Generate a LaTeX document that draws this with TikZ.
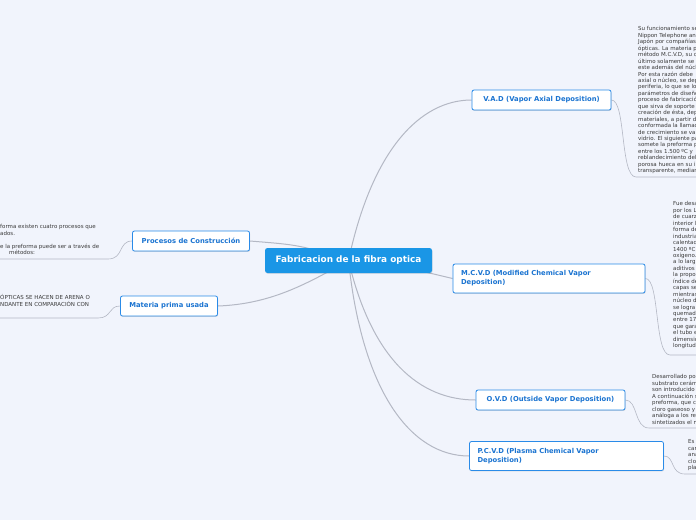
\documentclass[tikz,border=0pt]{standalone}
\usepackage{fontspec}
\setmainfont{DejaVu Sans}
\usepackage{tikz}
\usetikzlibrary{shadows}
\definecolor{bgcol}{HTML}{F1F4FC}
\definecolor{topblue}{HTML}{1A96E6}
\definecolor{brblue}{HTML}{2A8BE8}
\definecolor{brtext}{HTML}{1B74D1}
\definecolor{linkgray}{HTML}{B4B8C4}
\definecolor{leafgray}{HTML}{3A3A3A}
\pgfdeclarelayer{bg}
\pgfsetlayers{bg,main}
\tikzset{
branch/.style={
    draw=brblue, fill=white, rectangle, rounded corners=2pt,
    line width=0.8pt, text=brtext, inner xsep=8pt, inner ysep=0pt,
    font=\fontsize{6.8}{9}\selectfont\bfseries,
    drop shadow={shadow xshift=0.5pt, shadow yshift=-0.9pt, opacity=0.25, fill=black!50}
  }
}

\begin{document}
\begin{tikzpicture}[x=1pt, y=-1pt,
 central/.style={
        rectangle, rounded corners=2.5pt, fill=topblue, text=white,
        minimum width=167pt, minimum height=25pt, inner sep=0pt,
        font=\fontsize{8.9}{10}\selectfont\bfseries,
        drop shadow={shadow xshift=0.5pt, shadow yshift=-0.9pt, opacity=0.2, fill=black!50}
    },
 twoline/.style={branch, align=left, text width=176pt, minimum height=29pt},
 leaf/.style={anchor=north west, inner sep=0pt, align=left, text=leafgray,
        font=\fontsize{5.5}{6.45}\selectfont},
 link/.style={draw=linkgray, line width=1pt},
 underl/.style={draw=linkgray, line width=0.6pt}
  ]
\useasboundingbox (0,0) rectangle (696,520);
\clip (0,0) rectangle (696,520);
\begin{pgfonlayer}{bg}
\fill[bgcol] (0,0) rectangle (696,520);
\end{pgfonlayer}

\node[central] (root) at (348.5,260.5) {Fabricacion de la fibra optica};

\node[branch, minimum width=139pt, minimum height=20pt] (vad) at (541.5,100) {V.A.D (Vapor Axial Deposition)};
\node[twoline] (mcvd) at (549,278.5) {M.C.V.D (Modified Chemical Vapor\\Deposition)};
\node[branch, minimum width=149pt, minimum height=20pt] (ovd) at (550.5,400) {O.V.D (Outside Vapor Deposition)};
\node[twoline, text width=178pt] (pcvd) at (566.5,456) {P.C.V.D (Plasma Chemical Vapor\\Deposition)};
\node[branch, minimum width=117pt, minimum height=20pt] (proc) at (191,241) {Procesos de Construcción};
\node[branch, minimum width=97pt, minimum height=20pt] (mat) at (169,306) {Materia prima usada};

% textos de las hojas
\node[leaf] (vadtxt) at (638,26.5) {Su funcionamiento se\\Nippon Telephone an\\Japón por compañías\\ópticas. La materia p\\método M.C.V.D, su c\\último solamente se\\este además del núcl\\Por esta razón debe\\axial o núcleo, se dep\\periferia, lo que se lo\\parámetros de diseño\\proceso de fabricació\\que sirva de soporte\\creación de ésta, dep\\materiales, a partir d\\conformada la llamad\\de crecimiento se va\\vidrio. El siguiente pa\\somete la preforma p\\entre los 1.500 ºC y\\reblandecimiento del\\porosa hueca en su i\\transparente, median};
\node[leaf] (mcvdtxt) at (673,201.5) {Fue desa\\por los L\\de cuarz\\interior l\\forma de\\industria\\calentad\\1400 ºC\\oxígeno.\\a lo larg\\aditivos\\la propo\\índice de\\capas se\\mientras\\núcleo d\\se logra\\quemad\\entre 17\\que gara\\el tubo e\\dimensio\\longitud};
\node[leaf] (ovdtxt) at (652,374.5) {Desarrollado po\\substrato cerám\\son introducido\\A continuación s\\preforma, que c\\cloro gaseoso y\\análoga a los re\\sintetizados el n};
\node[leaf] (pcvdtxt) at (688,439.5) {Es\\car\\ana\\clo\\pla};
\node[leaf] (proctxt) at (0,224.5) {forma existen cuatro procesos que\\ados.\\[6.45pt]e la preforma puede ser a través de\\\hspace*{9pt}métodos:};
\node[leaf] (mattxt) at (0,294.5) {ÓPTICAS SE HACEN DE ARENA O\\NDANTE EN COMPARACIÓN CON};

\coordinate (vadu) at (636,177);
\coordinate (mcvdu) at (670,355);
\coordinate (ovdu) at (649,428);
\coordinate (pcvdu) at (685,474);
\coordinate (procu) at (108,259);
\coordinate (matu) at (98,318);

\begin{pgfonlayer}{bg}
\path[link] (root.center) .. controls (372,150) and (420,100) .. (vad.west);
\path[link] (root.center) .. controls (400,266) .. (mcvd.west);
\path[link] (root.center) .. controls (372,360) and (420,400) .. (ovd.west);
\path[link] (root.center) .. controls (362,390) and (410,456) .. (pcvd.west);
\path[link] (root.center) .. controls (300,245) .. (proc.east);
\path[link] (root.center) .. controls (305,285) and (270,304) .. (mat.east);

\draw[underl] (vad.east) .. controls (626,100) and (620,177) .. (vadu) -- (696,177);
\draw[underl] (mcvd.east) .. controls (660,278.5) and (654,355) .. (mcvdu) -- (696,355);
\draw[underl] (ovd.east) .. controls (638,400) and (634,428) .. (ovdu) -- (696,428);
\draw[underl] (pcvd.east) .. controls (675,456) and (670,474) .. (pcvdu) -- (696,474);
\draw[underl] (proc.west) .. controls (118,241) and (124,259) .. (procu) -- (0,259);
\draw[underl] (mat.west) .. controls (108,306) and (112,318) .. (matu) -- (0,318);
\end{pgfonlayer}
\end{tikzpicture}
\end{document}
